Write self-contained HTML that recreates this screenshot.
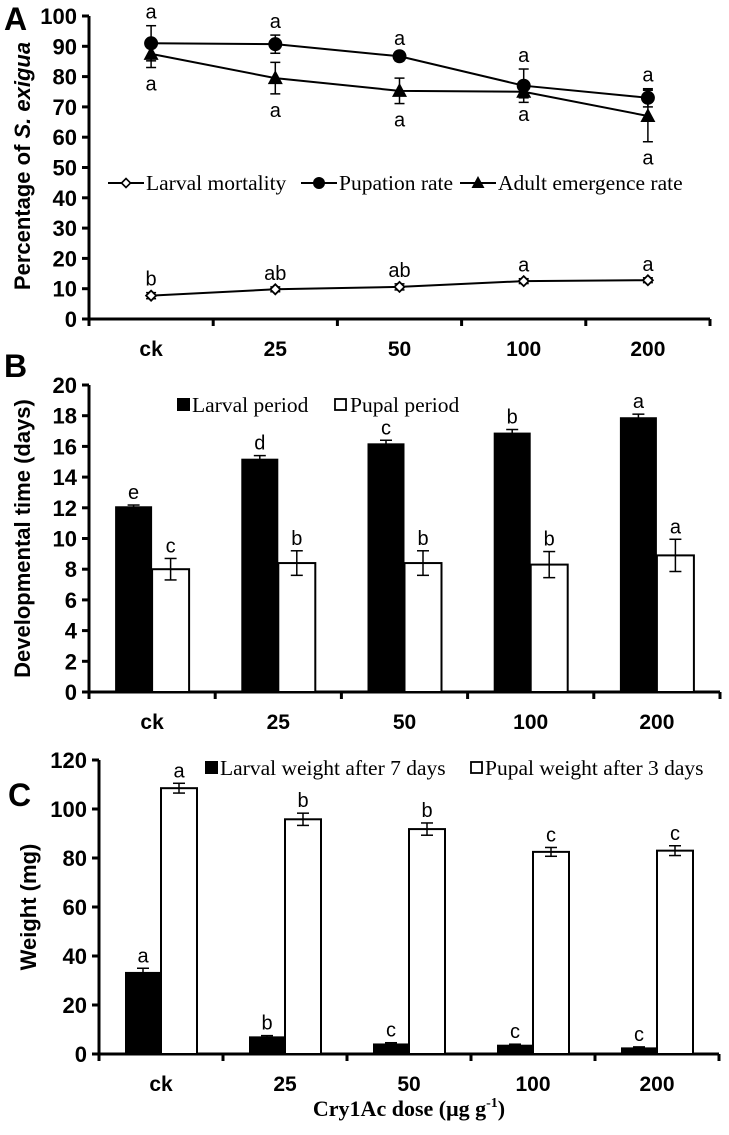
<!DOCTYPE html>
<html><head><meta charset="utf-8"><style>
html,body{margin:0;padding:0;background:#fff}
svg{display:block}
</style></head><body>
<svg id="fig" width="729" height="1135" viewBox="0 0 729 1135" xmlns="http://www.w3.org/2000/svg"></svg>
<script>
const categories = ["ck","25","50","100","200"];
// Panel A
const pupation = [91, 90.7, 86.7, 77, 73];
const pupationErr = [5.8, 3, 1.5, 5.5, 3];
const pupationLetters = ["a","a","a","a","a"];
const adult = [87.5, 79.5, 75.3, 75, 67];
const adultErr = [4.5, 5.2, 4.2, 2, 8.5];
const adultLetters = ["a","a","a","a","a"];
const mortality = [7.7, 9.8, 10.6, 12.5, 12.8];
const mortalityErr = [1, 0.8, 1, 0.8, 0.8];
const mortalityLetters = ["b","ab","ab","a","a"];
const ticksA = [0,10,20,30,40,50,60,70,80,90,100];
// Panel B
const larvalPeriod = [12.1, 15.2, 16.2, 16.9, 17.9];
const larvalPeriodErr = [0.08, 0.2, 0.2, 0.2, 0.2];
const larvalPeriodLetters = ["e","d","c","b","a"];
const pupalPeriod = [8.0, 8.4, 8.4, 8.3, 8.9];
const pupalPeriodErr = [0.7, 0.8, 0.8, 0.85, 1.05];
const pupalPeriodLetters = ["c","b","b","b","a"];
const ticksB = [0,2,4,6,8,10,12,14,16,18,20];
// Panel C
const larvalWeight = [33.5, 7.2, 4.3, 3.8, 2.7];
const larvalWeightErr = [1.5, 0.3, 0.3, 0.2, 0.2];
const larvalWeightLetters = ["a","b","c","c","c"];
const pupalWeight = [108.5, 95.8, 91.8, 82.5, 83.0];
const pupalWeightErr = [2, 2.5, 2.5, 1.8, 2];
const pupalWeightLetters = ["a","b","b","c","c"];
const ticksC = [0,20,40,60,80,100,120];

const svg = document.getElementById('fig');
const NS = 'http://www.w3.org/2000/svg';
function el(tag, attrs, parent){
  const e = document.createElementNS(NS, tag);
  for (const k in attrs) e.setAttribute(k, attrs[k]);
  (parent||svg).appendChild(e);
  return e;
}
function txt(s, x, y, size, opts, parent){
  const t = el('text', {x:x, y:y, 'font-size':size, 'font-family': opts.serif ? '"Liberation Serif", serif' : '"Liberation Sans", sans-serif', 'font-weight': opts.bold ? 'bold':'normal', 'text-anchor': opts.anchor||'middle', fill:'#000'}, parent);
  if (opts.rot) t.setAttribute('transform', 'rotate(-90 '+x+' '+y+')');
  t.textContent = s;
  return t;
}
function makeAxes(g, x0, y0, yTop, xEnd, maxV, ticks, title, titleX){
  const n = categories.length;
  const step = (xEnd - x0)/n;
  const xs = i => x0 + step*(i+0.5);
  const ys = v => y0 - (v/maxV)*(y0 - yTop);
  const ax = el('g', {}, g);
  
  
  el('line', {x1:x0, y1:yTop, x2:x0, y2:y0, stroke:'#000','stroke-width':3}, ax);
  el('line', {x1:x0-1.5, y1:y0, x2:xEnd, y2:y0, stroke:'#000','stroke-width':3}, ax);
  ticks.forEach(t => {
    el('line', {x1:x0-7, y1:ys(t), x2:x0, y2:ys(t), stroke:'#000','stroke-width':3}, ax);
    const lb = txt(String(t), x0-12, ys(t)+8, 22, {bold:true, anchor:'end'}, ax);
    
    
  });
  for (let i=0;i<=n;i++){
    el('line', {x1:x0+step*i, y1:y0, x2:x0+step*i, y2:y0+7, stroke:'#000','stroke-width':3}, ax);
  }
  categories.forEach((c,i) => {
    const lb = txt(c, xs(i), y0+37, 21, {bold:true}, ax);
    
    
  });
  if (title) {
    const yt = txt(title, titleX, (y0+yTop)/2, 22, {bold:true, rot:true}, ax);
    
    
  }
  return {xs, ys, step};
}
function errBar(g, x, y1, y2, cap){
  el('line', {x1:x, y1:y1, x2:x, y2:y2, stroke:'#000','stroke-width':1.5}, g);
  el('line', {x1:x-cap, y1:y1, x2:x+cap, y2:y1, stroke:'#000','stroke-width':1.5}, g);
  el('line', {x1:x-cap, y1:y2, x2:x+cap, y2:y2, stroke:'#000','stroke-width':1.5}, g);
}

// ---------- Panel A ----------
const gA = el('g', {});


const pA = makeAxes(gA, 89, 319, 16, 710, 100, ticksA, '', 28);
{
  const yt = txt('Percentage of ', 0, 0, 22, {bold:true}, gA);
  yt.setAttribute('transform','translate(30 166) rotate(-90)');
  
  
  const it = el('tspan', {'font-style':'italic'}, yt); it.textContent = 'S. exigua';
}
const pl = txt('A', 4, 30, 32, {bold:true, anchor:'start'}, gA);


function series(vals, errs, letters, name, marker, letterAbove){
  const g = el('g', {}, gA);
  
  
  const pts = vals.map((v,i)=>pA.xs(i)+','+pA.ys(v)).join(' ');
  el('polyline', {points:pts, fill:'none', stroke:'#000','stroke-width':2}, g);
  vals.forEach((v,i)=>{
    const x = pA.xs(i), y = pA.ys(v);
    errBar(g, x, pA.ys(v+errs[i]), pA.ys(v-errs[i]), 5);
    let m;
    if (marker==='circle') m = el('circle', {cx:x, cy:y, r:7, fill:'#000'}, g);
    else if (marker==='tri') m = el('polygon', {points:(x)+','+(y-8)+' '+(x-7.5)+','+(y+6)+' '+(x+7.5)+','+(y+6), fill:'#000'}, g);
    else m = el('polygon', {points:x+','+(y-5)+' '+(x+5)+','+y+' '+x+','+(y+5)+' '+(x-5)+','+y, fill:'#fff', stroke:'#000','stroke-width':1.8}, g);
    
    
    const ly = letterAbove ? pA.ys(v+errs[i]) - 7 : pA.ys(v-errs[i]) + 23;
    const lt = txt(letters[i], x, ly, 20, {}, g);
    
    
  });
}
series(pupation, pupationErr, pupationLetters, 'pupation-rate-series', 'circle', true);
series(adult, adultErr, adultLetters, 'adult-emergence-series', 'tri', false);
series(mortality, mortalityErr, mortalityLetters, 'larval-mortality-series', 'diamond', true);
{
  const lg = el('g', {}, gA);
  
  
  const y = 183;
  const items = [[108,'diamond','Larval mortality'],[301,'circle','Pupation rate'],[460,'tri','Adult emergence rate']];
  items.forEach(([x,m,label])=>{
    const e = el('g', {}, lg);
    
    
    el('line', {x1:x, y1:y, x2:x+36, y2:y, stroke:'#000','stroke-width':2}, e);
    const cx = x+18;
    if (m==='circle') el('circle', {cx:cx, cy:y, r:6, fill:'#000'}, e);
    else if (m==='tri') el('polygon', {points:cx+','+(y-7)+' '+(cx-6.5)+','+(y+5)+' '+(cx+6.5)+','+(y+5), fill:'#000'}, e);
    else el('polygon', {points:cx+','+(y-4.5)+' '+(cx+4.5)+','+y+' '+cx+','+(y+4.5)+' '+(cx-4.5)+','+y, fill:'#fff', stroke:'#000','stroke-width':1.6}, e);
    txt(label, x+38, y+7, 21.5, {serif:true, anchor:'start'}, e);
  });
}

// ---------- Bar panel helper ----------
function barPanel(name, x0, y0, yTop, xEnd, maxV, ticks, title, titleX, s1, e1, l1, s2, e2, l2, bw){
  const g = el('g', {});
  
  
  const p = makeAxes(g, x0, y0, yTop, xEnd, maxV, ticks, title, titleX);
  [[s1,e1,l1,'#000',-1,'larval-bar'],[s2,e2,l2,'#fff',0,'pupal-bar']].forEach(([vals,errs,letters,fill,off,nm])=>{
    vals.forEach((v,i)=>{
      const bx = p.xs(i) + off*bw;
      const r = el('rect', {x:bx, y:p.ys(v), width:bw, height:y0-p.ys(v), fill:fill, stroke:'#000','stroke-width':fill==='#fff'?2:0}, g);
      
      
      errBar(g, bx+bw/2, p.ys(v+errs[i]), p.ys(v-errs[i]), 6);
      const lt = txt(letters[i], bx+bw/2, p.ys(v+errs[i]) - 6, 20, {}, g);
      
      
    });
  });
  return g;
}
// Panel B
const gB = barPanel('panel-b-bar-chart', 89, 692, 385, 720, 20, ticksB, 'Developmental time (days)', 30, larvalPeriod, larvalPeriodErr, larvalPeriodLetters, pupalPeriod, pupalPeriodErr, pupalPeriodLetters, 37);
{
  const pb = txt('B', 4, 377, 32, {bold:true, anchor:'start'}, gB);
  
  
  const lg = el('g', {}, gB);
  
  
  el('rect', {x:177, y:398, width:13, height:13, fill:'#000'}, lg);
  txt('Larval period', 192, 412, 21.5, {serif:true, anchor:'start'}, lg);
  el('rect', {x:335, y:399, width:11, height:11, fill:'#fff', stroke:'#000','stroke-width':1.8}, lg);
  txt('Pupal period', 350, 412, 21.5, {serif:true, anchor:'start'}, lg);
}
// Panel C
const gC = barPanel('panel-c-bar-chart', 99, 1054, 760, 719, 120, ticksC, 'Weight (mg)', 36, larvalWeight, larvalWeightErr, larvalWeightLetters, pupalWeight, pupalWeightErr, pupalWeightLetters, 36);
{
  const pc = txt('C', 8, 806, 32, {bold:true, anchor:'start'}, gC);
  
  
  const lg = el('g', {}, gC);
  
  
  el('rect', {x:205, y:761, width:13, height:13, fill:'#000'}, lg);
  txt('Larval weight after 7 days', 220, 775, 21.5, {serif:true, anchor:'start'}, lg);
  el('rect', {x:471, y:762, width:11, height:11, fill:'#fff', stroke:'#000','stroke-width':1.8}, lg);
  txt('Pupal weight after 3 days', 485, 775, 21.5, {serif:true, anchor:'start'}, lg);
  const xt = el('text', {x:409, y:1116, 'font-size':22, 'font-family':'"Liberation Serif", serif', 'font-weight':'bold', 'text-anchor':'middle'}, gC);
  
  
  xt.appendChild(document.createTextNode('Cry1Ac dose (μg g'));
  const sup = el('tspan', {'font-size':14, dy:-9}, xt); sup.textContent = '-1';
  const cl = el('tspan', {dy:9}, xt); cl.textContent = ')';
}
</script>
</body></html>
